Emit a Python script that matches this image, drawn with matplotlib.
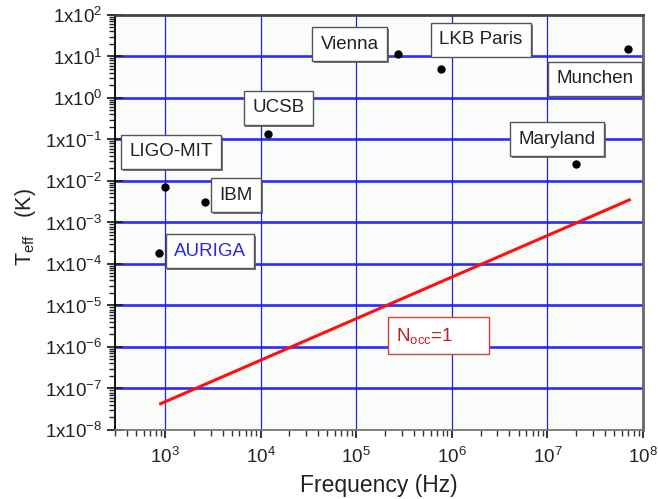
import matplotlib
matplotlib.use("Agg")
import matplotlib.pyplot as plt
import matplotlib.patheffects as pe
from matplotlib.ticker import LogLocator, FixedLocator, NullFormatter

plt.rcParams['font.family'] = ['Liberation Sans', 'DejaVu Sans']
plt.rcParams['mathtext.fontset'] = 'custom'
plt.rcParams['mathtext.rm'] = 'Liberation Sans'
plt.rcParams['mathtext.it'] = 'Liberation Sans:italic'
plt.rcParams['mathtext.default'] = 'regular'

# Experiments: resonance frequency (Hz) and effective temperature (K)
labels = ["LIGO-MIT", "IBM", "UCSB", "Vienna", "LKB Paris", "Munchen", "Maryland", "AURIGA"]
freq_hz = [1.0e3, 2.6e3, 1.2e4, 2.75e5, 7.7e5, 6.9e7, 2.0e7, 8.7e2]
t_eff_k = [7.2e-3, 3.1e-3, 0.135, 11.5, 5.0, 15.0, 0.026, 1.85e-4]

# Single-phonon occupancy boundary (N_occ = 1)
nocc_freq = [9.0e2, 7.2e7]
nocc_temp = [4.3e-8, 3.5e-3]

y_exponents = [2, 1, 0, -1, -2, -3, -4, -5, -6, -7, -8]
x_exponents = [3, 4, 5, 6, 7, 8]

fig = plt.figure(figsize=(6.58, 4.99), dpi=100)
ax = fig.add_axes([0.1748, 0.1383, 0.8024, 0.8317])
ax.set_facecolor('#fafcfa')

ax.set_xscale('log')
ax.set_yscale('log')
ax.set_xlim(300, 1e8)
ax.set_ylim(1e-8, 1e2)

# decade grid
for e in y_exponents[1:-1]:
    ax.axhline(10.0 ** e, color='#2b2bff', lw=1.9, zorder=1)
for e in x_exponents[:-1]:
    ax.axvline(10.0 ** e, color='#2020d8', lw=0.9, zorder=1)

ax.plot(nocc_freq, nocc_temp, color='#ff1010', lw=2.2, zorder=3)
ax.plot(freq_hz, t_eff_k, 'o', color='black', ms=5, zorder=4)

# ticks
ax.yaxis.set_major_locator(FixedLocator([10.0 ** e for e in y_exponents]))
ax.set_yticklabels(['1x10$^{%d}$' % e for e in y_exponents])
ax.yaxis.set_minor_locator(LogLocator(base=10, subs=range(2, 10), numticks=20))
ax.yaxis.set_minor_formatter(NullFormatter())
ax.xaxis.set_major_locator(FixedLocator([10.0 ** e for e in x_exponents]))
ax.set_xticklabels(['10$^{%d}$' % e for e in x_exponents])
ax.xaxis.set_minor_locator(LogLocator(base=10, subs=range(2, 10), numticks=20))
ax.xaxis.set_minor_formatter(NullFormatter())

ax.tick_params(axis='y', which='major', direction='inout', length=12, width=1.3,
               labelsize=13.5, colors='#222222', pad=3)
ax.tick_params(axis='y', which='minor', direction='out', length=4, width=1.0, color='#222222')
ax.tick_params(axis='x', which='major', direction='out', length=6, width=1.3,
               labelsize=13.5, colors='#222222', pad=6)
ax.tick_params(axis='x', which='minor', direction='out', length=4, width=1.0, color='#333333')

ax.spines['left'].set_color('black')
ax.spines['left'].set_linewidth(1.3)
ax.spines['bottom'].set_color('#777777')
ax.spines['bottom'].set_linewidth(1.3)
ax.spines['top'].set_color('#444444')
ax.spines['top'].set_linewidth(2.0)
ax.spines['right'].set_color('#666666')
ax.spines['right'].set_linewidth(2.0)

ax.set_xlabel('Frequency (Hz)', fontsize=16.5, color='#222222')
ax.xaxis.set_label_coords(0.5, -0.105)
ax.set_ylabel('T$_{eff}$   (K)', fontsize=15.5, color='#222222')
ax.yaxis.set_label_coords(-0.145, 0.49)

# experiment labels (axes-fraction placement)
label_pos = {
    "LIGO-MIT": (0.106, 0.670),
    "IBM": (0.229, 0.566),
    "UCSB": (0.309, 0.776),
    "Vienna": (0.445, 0.930),
    "LKB Paris": (0.693, 0.940),
    "Munchen": (0.909, 0.846),
    "Maryland": (0.837, 0.701),
    "AURIGA": (0.180, 0.431),
}
shadow = [pe.withSimplePatchShadow(offset=(1.2, -1.2), shadow_rgbFace='#555555', alpha=0.8)]
for name in labels:
    x, y = label_pos[name]
    color = '#2a2ad8' if name == "AURIGA" else '#222222'
    t = ax.text(x, y, name, transform=ax.transAxes, ha='center', va='center',
                fontsize=13.5, color=color, zorder=6,
                bbox=dict(boxstyle='square,pad=0.45', fc='white', ec='#555555', lw=1.0))
    t.get_bbox_patch().set_path_effects(shadow)

t = ax.text(0.612, 0.227, 'N$_{occ}$=1      ', transform=ax.transAxes, ha='center',
            va='center', fontsize=13.5, color='#c02020', zorder=6,
            bbox=dict(boxstyle='square,pad=0.45', fc='white', ec='#d04040', lw=1.0))

fig.savefig('out.png', dpi=100, facecolor='white')
